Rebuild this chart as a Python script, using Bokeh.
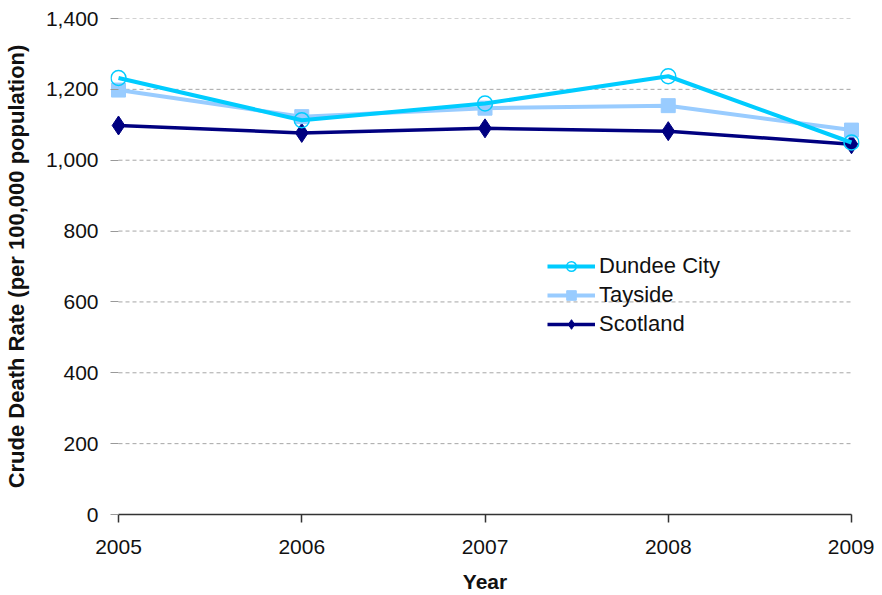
from bokeh.plotting import figure
from bokeh.models import Range1d, FixedTicker, NumeralTickFormatter, Legend, LegendItem
from bokeh.embed import file_html
from bokeh.resources import INLINE

years = [2005, 2006, 2007, 2008, 2009]
year_labels = ["2005", "2006", "2007", "2008", "2009"]
dundee = [1232, 1113, 1160, 1237, 1050]
tayside = [1198, 1123, 1147, 1154, 1085]
scotland = [1098, 1077, 1090, 1082, 1045]
y_ticks = [0, 200, 400, 600, 800, 1000, 1200, 1400]

FONT = "Liberation Sans"
pad = 0.0437

p = figure(width=874, height=595, output_backend="svg", toolbar_location=None,
           x_range=Range1d(years[0] - pad, years[-1] + pad),
           y_range=Range1d(0, 1400),
           min_border_left=110, min_border_right=15, min_border_top=18, min_border_bottom=80)
p.outline_line_color = None
p.xgrid.visible = False
p.ygrid.visible = False

# dashed horizontal gridlines between first and last year
for v in y_ticks[1:]:
    p.segment(x0=years[0], y0=v, x1=years[-1], y1=v, line_color="#A6A6A6",
              line_dash="4 3", line_width=1)

# x axis
xa = p.xaxis[0]
xa.ticker = FixedTicker(ticks=years)
xa.major_label_overrides = {y: l for y, l in zip(years, year_labels)}
xa.bounds = (years[0], years[-1])
xa.axis_line_color = "#333333"
xa.axis_line_width = 1.5
xa.major_tick_line_color = "#333333"
xa.major_tick_line_width = 1.5
xa.major_tick_out = 8
xa.major_tick_in = 0
xa.minor_tick_line_color = None
xa.major_label_standoff = 17
xa.major_label_text_font = FONT
xa.major_label_text_font_size = "21px"
xa.major_label_text_color = "#111111"
xa.axis_label = "Year"
xa.axis_label_text_font = FONT
xa.axis_label_text_font_style = "bold"
xa.axis_label_text_font_size = "21px"
xa.axis_label_text_color = "#111111"
xa.axis_label_standoff = 13

# y axis
ya = p.yaxis[0]
ya.ticker = FixedTicker(ticks=y_ticks)
ya.formatter = NumeralTickFormatter(format="0,0")
ya.axis_line_color = None
ya.major_tick_line_color = "#999999"
ya.major_tick_in = 8
ya.major_tick_out = 0
ya.minor_tick_line_color = None
ya.major_label_standoff = 12
ya.major_label_text_font = FONT
ya.major_label_text_font_size = "21px"
ya.major_label_text_color = "#111111"
ya.axis_label = "Crude Death Rate (per 100,000 population)"
ya.axis_label_text_font = FONT
ya.axis_label_text_font_style = "bold"
ya.axis_label_text_font_size = "22px"
ya.axis_label_text_color = "#111111"
ya.axis_label_standoff = 14

# series (Scotland bottom, Dundee on top)
sl = p.line(years, scotland, line_color="#000080", line_width=3.5)
sm = p.scatter(years, scotland, marker="diamond", size=19, fill_color="#000080",
               line_color="#000080")
tl = p.line(years, tayside, line_color="#99CCFF", line_width=4)
tm = p.scatter(years, tayside, marker="square", size=14, fill_color="#99CCFF",
               line_color="#99CCFF")
dl = p.line(years, dundee, line_color="#00CCFF", line_width=4)
dm = p.scatter(years, dundee, marker="circle", size=15, fill_alpha=0,
               line_color="#00CCFF", line_width=1.5)

legend = Legend(items=[
    LegendItem(label="Dundee City", renderers=[dl, dm]),
    LegendItem(label="Tayside", renderers=[tl, tm]),
    LegendItem(label="Scotland", renderers=[sl, sm]),
], location=(437, 177))
legend.border_line_color = None
legend.background_fill_alpha = 0
legend.padding = 0
legend.margin = 0
legend.spacing = 3
legend.glyph_width = 48
legend.glyph_height = 24
legend.label_height = 24
legend.label_standoff = 4
legend.label_text_font = FONT
legend.label_text_font_size = "22px"
legend.label_text_color = "#111111"
p.add_layout(legend, "center")

open("out.html", "w").write(file_html(p, INLINE))
